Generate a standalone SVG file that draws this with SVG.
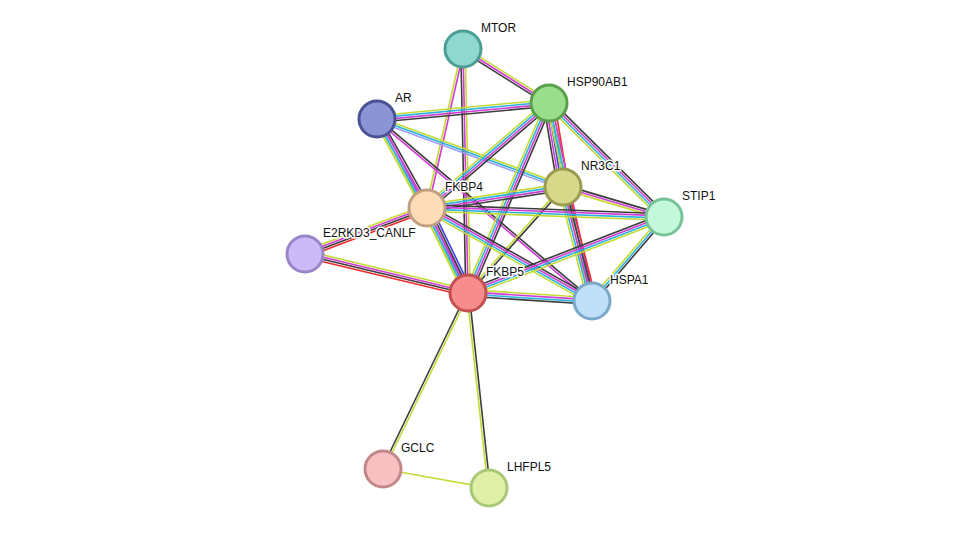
<svg xmlns="http://www.w3.org/2000/svg" width="976" height="534" viewBox="0 0 976 534">
<style>
line{vector-effect:non-scaling-stroke;stroke-width:1.6;fill:none}
.y{stroke:#c3da32}.m{stroke:#d23ad6}.c{stroke:#2ab3de}.k{stroke:#3c3c3c}.r{stroke:#ee2b2b}.b{stroke:#3e3ee8}.l{stroke:#9d9dfa}
circle{stroke-width:3}
text{font-family:"Liberation Sans",Arial,sans-serif;font-size:12px;fill:#111;stroke:#fff;stroke-width:3;paint-order:stroke;stroke-linejoin:round}
</style>
<rect width="976" height="534" fill="#fff"/>
<g id="edges">
<g transform="matrix(86 54 -.532 .847 463 49)"><line class="y" x1="0" x2="1" y1="-2.2" y2="-2.2"/><line class="m" x1="0" x2="1" y1="0" y2="0"/><line class="k" x1="0" x2="1" y1="2.2" y2="2.2"/></g>
<g transform="matrix(-36 159 -.975 -.221 463 49)"><line class="m" x1="0" x2="1" y1="-1.1" y2="-1.1"/><line class="y" x1="0" x2="1" y1="1.1" y2="1.1"/></g>
<g transform="matrix(5 244 -1 .02 463 49)"><line class="y" x1="0" x2="1" y1="-2.2" y2="-2.2"/><line class="m" x1="0" x2="1" y1="0" y2="0"/><line class="k" x1="0" x2="1" y1="2.2" y2="2.2"/></g>
<g transform="matrix(172 -16 .093 .996 377 119)"><line class="y" x1="0" x2="1" y1="-3.3" y2="-3.3"/><line class="c" x1="0" x2="1" y1="-1.1" y2="-1.1"/><line class="m" x1="0" x2="1" y1="1.1" y2="1.1"/><line class="k" x1="0" x2="1" y1="3.3" y2="3.3"/></g>
<g transform="matrix(186 68 -.343 .939 377 119)"><line class="y" x1="0" x2="1" y1="-2.2" y2="-2.2"/><line class="c" x1="0" x2="1" y1="0" y2="0"/><line class="l" x1="0" x2="1" y1="2.2" y2="2.2"/></g>
<g transform="matrix(50 89 -.872 .49 377 119)"><line class="k" x1="0" x2="1" y1="-3.3" y2="-3.3"/><line class="m" x1="0" x2="1" y1="-1.1" y2="-1.1"/><line class="c" x1="0" x2="1" y1="1.1" y2="1.1"/><line class="y" x1="0" x2="1" y1="3.3" y2="3.3"/></g>
<g transform="matrix(91 174 -.886 .463 377 119)"><line class="m" x1="0" x2="1" y1="-2.2" y2="-2.2"/><line class="c" x1="0" x2="1" y1="0" y2="0"/><line class="y" x1="0" x2="1" y1="2.2" y2="2.2"/></g>
<g transform="matrix(215 182 -.646 .763 377 119)"><line class="k" x1="0" x2="1" y1="-1.1" y2="-1.1"/><line class="m" x1="0" x2="1" y1="1.1" y2="1.1"/></g>
<g transform="matrix(-122 105 -.652 -.758 549 103)"><line class="k" x1="0" x2="1" y1="-3.3" y2="-3.3"/><line class="m" x1="0" x2="1" y1="-1.1" y2="-1.1"/><line class="c" x1="0" x2="1" y1="1.1" y2="1.1"/><line class="y" x1="0" x2="1" y1="3.3" y2="3.3"/></g>
<g transform="matrix(-81 190 -.92 -.392 549 103)"><line class="k" x1="0" x2="1" y1="-3.3" y2="-3.3"/><line class="m" x1="0" x2="1" y1="-1.1" y2="-1.1"/><line class="c" x1="0" x2="1" y1="1.1" y2="1.1"/><line class="y" x1="0" x2="1" y1="3.3" y2="3.3"/></g>
<g transform="matrix(14 84 -.988 .165 549 103)"><line class="r" x1="0" x2="1" y1="-5.5" y2="-5.5"/><line class="y" x1="0" x2="1" y1="-3.3" y2="-3.3"/><line class="c" x1="0" x2="1" y1="-1.1" y2="-1.1"/><line class="b" x1="0" x2="1" y1="1.1" y2="1.1"/><line class="m" x1="0" x2="1" y1="3.3" y2="3.3"/><line class="k" x1="0" x2="1" y1="5.5" y2="5.5"/></g>
<g transform="matrix(115 114 -.704 .71 549 103)"><line class="k" x1="0" x2="1" y1="-3.3" y2="-3.3"/><line class="m" x1="0" x2="1" y1="-1.1" y2="-1.1"/><line class="c" x1="0" x2="1" y1="1.1" y2="1.1"/><line class="y" x1="0" x2="1" y1="3.3" y2="3.3"/></g>
<g transform="matrix(43 198 -.977 .212 549 103)"><line class="m" x1="0" x2="1" y1="-2.2" y2="-2.2"/><line class="c" x1="0" x2="1" y1="0" y2="0"/><line class="y" x1="0" x2="1" y1="2.2" y2="2.2"/></g>
<g transform="matrix(-136 21 -.153 -.988 563 187)"><line class="k" x1="0" x2="1" y1="-3.3" y2="-3.3"/><line class="m" x1="0" x2="1" y1="-1.1" y2="-1.1"/><line class="c" x1="0" x2="1" y1="1.1" y2="1.1"/><line class="y" x1="0" x2="1" y1="3.3" y2="3.3"/></g>
<g transform="matrix(-95 106 -.746 -.669 563 187)"><line class="k" x1="0" x2="1" y1="-1.1" y2="-1.1"/><line class="y" x1="0" x2="1" y1="1.1" y2="1.1"/></g>
<g transform="matrix(101 30 -.286 .962 563 187)"><line class="k" x1="0" x2="1" y1="-2.2" y2="-2.2"/><line class="m" x1="0" x2="1" y1="0" y2="0"/><line class="y" x1="0" x2="1" y1="2.2" y2="2.2"/></g>
<g transform="matrix(29 114 -.969 .247 563 187)"><line class="r" x1="0" x2="1" y1="-4.4" y2="-4.4"/><line class="k" x1="0" x2="1" y1="-2.2" y2="-2.2"/><line class="m" x1="0" x2="1" y1="0" y2="0"/><line class="c" x1="0" x2="1" y1="2.2" y2="2.2"/><line class="y" x1="0" x2="1" y1="4.4" y2="4.4"/></g>
<g transform="matrix(237 9 -.038 .999 427 208)"><line class="k" x1="0" x2="1" y1="-3.3" y2="-3.3"/><line class="m" x1="0" x2="1" y1="-1.1" y2="-1.1"/><line class="c" x1="0" x2="1" y1="1.1" y2="1.1"/><line class="y" x1="0" x2="1" y1="3.3" y2="3.3"/></g>
<g transform="matrix(41 85 -.9 .434 427 208)"><line class="b" x1="0" x2="1" y1="-4.4" y2="-4.4"/><line class="k" x1="0" x2="1" y1="-2.2" y2="-2.2"/><line class="m" x1="0" x2="1" y1="0" y2="0"/><line class="c" x1="0" x2="1" y1="2.2" y2="2.2"/><line class="y" x1="0" x2="1" y1="4.4" y2="4.4"/></g>
<g transform="matrix(165 93 -.491 .871 427 208)"><line class="k" x1="0" x2="1" y1="-3.3" y2="-3.3"/><line class="m" x1="0" x2="1" y1="-1.1" y2="-1.1"/><line class="c" x1="0" x2="1" y1="1.1" y2="1.1"/><line class="y" x1="0" x2="1" y1="3.3" y2="3.3"/></g>
<g transform="matrix(-122 46 -.354 -.938 427 208)"><line class="r" x1="0" x2="1" y1="-3.3" y2="-3.3"/><line class="k" x1="0" x2="1" y1="-1.1" y2="-1.1"/><line class="m" x1="0" x2="1" y1="1.1" y2="1.1"/><line class="y" x1="0" x2="1" y1="3.3" y2="3.3"/></g>
<g transform="matrix(163 39 -.233 .973 305 254)"><line class="y" x1="0" x2="1" y1="-3.3" y2="-3.3"/><line class="m" x1="0" x2="1" y1="-1.1" y2="-1.1"/><line class="k" x1="0" x2="1" y1="1.1" y2="1.1"/><line class="r" x1="0" x2="1" y1="3.3" y2="3.3"/></g>
<g transform="matrix(124 8 -.065 .998 468 293)"><line class="y" x1="0" x2="1" y1="-3.3" y2="-3.3"/><line class="m" x1="0" x2="1" y1="-1.1" y2="-1.1"/><line class="c" x1="0" x2="1" y1="1.1" y2="1.1"/><line class="k" x1="0" x2="1" y1="3.3" y2="3.3"/></g>
<g transform="matrix(196 -76 .362 .933 468 293)"><line class="k" x1="0" x2="1" y1="-3.3" y2="-3.3"/><line class="m" x1="0" x2="1" y1="-1.1" y2="-1.1"/><line class="c" x1="0" x2="1" y1="1.1" y2="1.1"/><line class="y" x1="0" x2="1" y1="3.3" y2="3.3"/></g>
<g transform="matrix(-72 84 -.76 -.651 664 217)"><line class="k" x1="0" x2="1" y1="-2.2" y2="-2.2"/><line class="c" x1="0" x2="1" y1="0" y2="0"/><line class="y" x1="0" x2="1" y1="2.2" y2="2.2"/></g>
<g transform="matrix(-85 176 -.9 -.435 468 293)"><line class="y" x1="0" x2="1" y1="-1.1" y2="-1.1"/><line class="k" x1="0" x2="1" y1="1.1" y2="1.1"/></g>
<g transform="matrix(21 195 -.995 .107 468 293)"><line class="k" x1="0" x2="1" y1="-1.1" y2="-1.1"/><line class="y" x1="0" x2="1" y1="1.1" y2="1.1"/></g>
<line class="y" x1="383" y1="469" x2="489" y2="488"/>
</g>
<g id="MTOR"><circle cx="463" cy="49" r="18" fill="#8fd8cf" stroke="#4a9e93"/><text x="481" y="32">MTOR</text></g>
<g id="HSP90AB1"><circle cx="549" cy="103" r="18" fill="#9add8a" stroke="#5aa04c"/><text x="567" y="86">HSP90AB1</text></g>
<g id="AR"><circle cx="377" cy="119" r="18" fill="#8c94d6" stroke="#4a5294"/><text x="395" y="102">AR</text></g>
<g id="NR3C1"><circle cx="563" cy="187" r="18" fill="#d8d88a" stroke="#9a9a50"/><text x="581" y="170">NR3C1</text></g>
<g id="FKBP4"><circle cx="427" cy="208" r="18" fill="#fddcb8" stroke="#c0a080"/><text x="445" y="191">FKBP4</text></g>
<g id="STIP1"><circle cx="664" cy="217" r="18" fill="#c4f8dc" stroke="#78c498"/><text x="682" y="200">STIP1</text></g>
<g id="E2RKD3_CANLF"><circle cx="305" cy="254" r="18" fill="#cbbaf8" stroke="#9a84c8"/><text x="323" y="237">E2RKD3_CANLF</text></g>
<g id="FKBP5"><circle cx="468" cy="293" r="18" fill="#f78c8c" stroke="#c45050"/><text x="486" y="276">FKBP5</text></g>
<g id="HSPA1"><circle cx="592" cy="301" r="18" fill="#bfe0f8" stroke="#7aa8c8"/><text x="610" y="284">HSPA1</text></g>
<g id="GCLC"><circle cx="383" cy="469" r="18" fill="#f8c0c0" stroke="#c08888"/><text x="401" y="452">GCLC</text></g>
<g id="LHFPL5"><circle cx="489" cy="488" r="18" fill="#e0f0a8" stroke="#a8c878"/><text x="507" y="471">LHFPL5</text></g>
</svg>
